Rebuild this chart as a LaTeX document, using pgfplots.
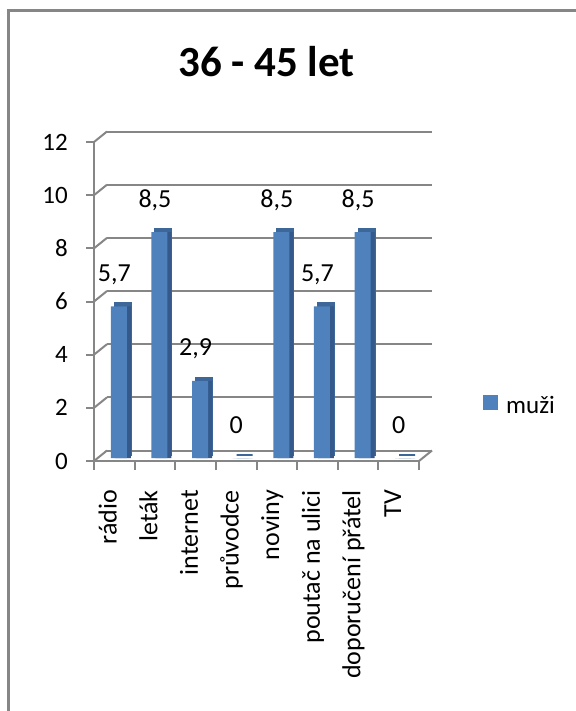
\documentclass[border=0pt]{standalone}
\usepackage{pgfplots}
\pgfplotsset{compat=1.18}
\usepackage{fontspec}
\setmainfont{Carlito}
\definecolor{barblue}{HTML}{4F81BD}
\definecolor{sideblue}{HTML}{34598A}
\definecolor{topblue}{HTML}{3D6699}
\definecolor{gridgray}{HTML}{868686}
\pgfplotstableread{
x y
0 5.7
1 8.5
2 2.9
3 0
4 8.5
5 5.7
6 8.5
7 0
}\muzi
\begin{document}
\begin{tikzpicture}
\useasboundingbox (0,0) rectangle (575pt,-711pt);
\draw[gridgray, line width=3pt] (8.5pt,-720pt) -- (8.5pt,-11pt) -- (600pt,-11pt);
\node[anchor=base, inner sep=0pt, font=\fontsize{43}{50}\selectfont\bfseries] at (266.5pt,-77pt) {36 - 45 let};
\begin{axis}[
  scale only axis, width=325pt, height=319pt,
  at={(94pt,-461pt)}, anchor=south west,
  clip=false,
  xmin=-0.5, xmax=7.5, ymin=0, ymax=12,
  ytick={0,2,...,12},
  xtick={0,...,7},
  xticklabels={rádio, leták, internet, průvodce, noviny, poutač na ulici, doporučení přátel, TV},
  minor xtick={-0.5,0.5,...,7.5},
  axis x line*=bottom, axis y line*=left,
  x axis line style={-, gridgray, line width=2pt},
  y axis line style={-, gridgray, line width=2pt},
  tick align=outside,
  major tick length=8pt, minor tick length=9pt,
  every major x tick/.append style={draw=none},
  every minor tick/.append style={gridgray, line width=2pt},
  ytick style={gridgray, line width=2pt},
  ymajorgrids,
  major grid style={gridgray, line width=2pt, xshift=13pt, yshift=10.5pt},
  /pgf/number format/assume math mode=true,
  /pgf/number format/use comma,
  /pgf/number format/fixed,
  /pgf/number format/precision=1,
  yticklabel style={font=\fontsize{25}{30}\selectfont, black, anchor=east, inner sep=0pt},
  yticklabel shift=18pt,
  xticklabel style={rotate=90, anchor=mid east, inner sep=0pt, font=\fontsize{26}{30}\selectfont, black},
  xticklabel shift=21pt,
  legend style={at={(1.197,0.172)}, anchor=west, draw=none, fill=none, inner sep=0pt, font=\fontsize{25}{30}\selectfont,
    /tikz/every odd column/.append style={column sep=6pt}},
  legend image code/.code={\fill[barblue] (0pt,-7pt) rectangle (15pt,8pt);},
]
\pgfplotsinvokeforeach{0,2,4,6,8,10,12}{\draw[gridgray, line width=2pt] (axis cs:-0.5,#1) -- ++(13pt,10.5pt);}
\draw[gridgray, line width=2pt] (axis cs:7.5,0) -- ++(13pt,10.5pt);
\addplot[ybar, bar width=16pt, bar shift=8.5pt, fill=topblue, draw=topblue, line width=2pt, yshift=6pt, forget plot] table[x=x,y=y] {\muzi};
\addplot[ybar, bar width=16pt, bar shift=8.5pt, fill=sideblue, draw=none, yshift=3pt, forget plot] table[x=x,y=y] {\muzi};
\addplot[ybar, bar width=16pt, bar shift=4.5pt, fill=barblue, draw=none, yshift=3pt,
  nodes near coords={\pgfmathprintnumber{\pgfplotspointmeta}},
  every node near coord/.append style={font=\fontsize{26}{30}\selectfont, anchor=base, yshift=25pt, inner sep=0pt, black}]
  table[x=x,y=y] {\muzi};
\addlegendentry{muži}
\end{axis}
\end{tikzpicture}
\end{document}
